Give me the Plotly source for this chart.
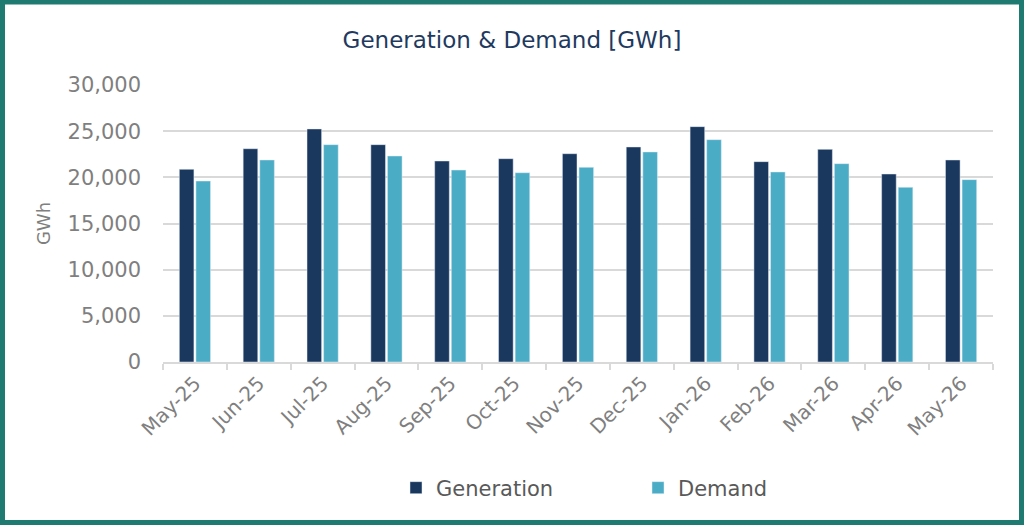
import plotly.graph_objects as go

months = ["May-25", "Jun-25", "Jul-25", "Aug-25", "Sep-25", "Oct-25", "Nov-25",
          "Dec-25", "Jan-26", "Feb-26", "Mar-26", "Apr-26", "May-26"]
generation = [20870, 23100, 25240, 23540, 21770, 22020, 22560,
              23290, 25490, 21700, 23030, 20360, 21880]
demand = [19600, 21880, 23540, 22310, 20790, 20500, 21080,
          22750, 24080, 20580, 21480, 18920, 19750]

W, H = 1024, 525
L, R, T, B = 163, 31, 85, 163
PW, PH = W - L - R, H - T - B


def px(x):
    return (x - L) / PW


def py(y):
    return (H - B - y) / PH


FONT = "DejaVu Sans, Liberation Sans, Arial, sans-serif"
GRAY = "#7f7f7f"
NAVY = "#1a375d"
TEAL = "#4bacc6"

fig = go.Figure()
fig.add_trace(go.Bar(name="Generation", x=months, y=generation, marker_color=NAVY))
fig.add_trace(go.Bar(name="Demand", x=months, y=demand, marker_color=TEAL))

fig.update_layout(
    width=W, height=H,
    margin=dict(l=L, r=R, t=T, b=B),
    paper_bgcolor="white", plot_bgcolor="white",
    barmode="group", bargap=0.48, bargroupgap=0.12,
    font=dict(family=FONT, color=GRAY),
    title=dict(text="Generation &amp; Demand [GWh]", x=0.5, xref="container",
               y=1 - 40 / H, yref="container", yanchor="middle", xanchor="center",
               font=dict(size=23, color="#1f3a5f", family=FONT)),
    legend=dict(orientation="h", x=px(396), y=py(488), xanchor="left", yanchor="middle",
                font=dict(size=21, color="#595959"), entrywidth=197, entrywidthmode="pixels",
                bgcolor="rgba(0,0,0,0)"),
    showlegend=True,
)
fig.update_yaxes(range=[0, 30000], dtick=5000, tickformat=",", showgrid=True,
                 gridcolor="#d9d9d9", gridwidth=1.5, zeroline=False, showline=False,
                 tickfont=dict(size=21, color=GRAY), ticks="", ticklabelstandoff=21,
                 title=dict(text="GWh", font=dict(size=18, color=GRAY), standoff=12))
fig.update_xaxes(showline=True, linecolor="#d9d9d9", linewidth=1.5, ticks="outside",
                 tickson="boundaries", tickcolor="#d9d9d9", ticklen=6, tickwidth=1.5,
                 tickangle=-45, tickfont=dict(size=20, color=GRAY))

fig.add_shape(type="rect", xref="paper", yref="paper",
              x0=px(2.5), x1=px(W - 2.5), y0=py(H - 2.5), y1=py(2),
              line=dict(color="#1f7a72", width=5), fillcolor="rgba(0,0,0,0)", layer="above")

fig.write_html("out.html")
